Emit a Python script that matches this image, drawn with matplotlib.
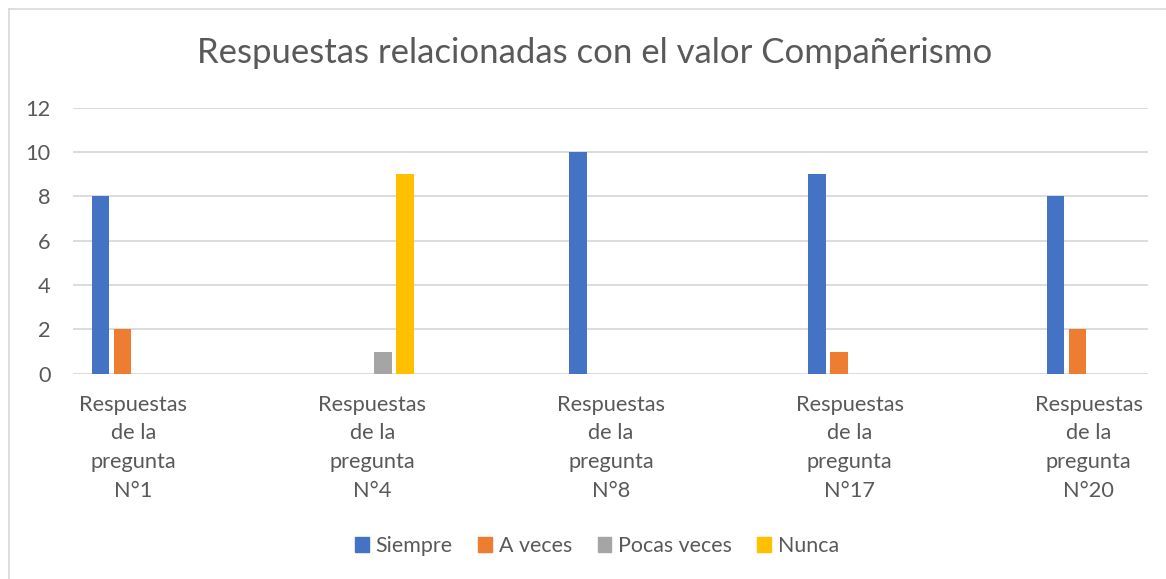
import matplotlib
matplotlib.use("Agg")
import matplotlib.pyplot as plt
import numpy as np
from matplotlib.patches import Rectangle
from matplotlib.lines import Line2D

categories = ["Respuestas\nde la\npregunta\nN°1", "Respuestas\nde la\npregunta\nN°4",
              "Respuestas\nde la\npregunta\nN°8", "Respuestas\nde la\npregunta\nN°17",
              "Respuestas\nde la\npregunta\nN°20"]
series_names = ["Siempre", "A veces", "Pocas veces", "Nunca"]
siempre = [8, 0, 10, 9, 8]
a_veces = [2, 0, 0, 1, 2]
pocas_veces = [0, 1, 0, 0, 0]
nunca = [0, 9, 0, 0, 0]
y_ticks = [0, 2, 4, 6, 8, 10, 12]
title = "Respuestas relacionadas con el valor Compañerismo"

colors = ["#4472C4", "#ED7D31", "#A5A5A5", "#FFC000"]
text_color = "#595959"
grid_color = "#D9D9D9"
FONT = "Lato"

W, H = 1166, 579
fig = plt.figure(figsize=(W / 100, H / 100), dpi=100)
fig.patch.set_facecolor("white")

# chart border (left and top visible)
fig.add_artist(Line2D([9 / W, 9 / W], [0, 1 - 9 / H], color=grid_color, lw=1.2,
                      transform=fig.transFigure))
fig.add_artist(Line2D([9 / W, 1], [1 - 9 / H, 1 - 9 / H], color=grid_color, lw=1.2,
                      transform=fig.transFigure))

left, right = 73 / W, 1148 / W
bottom, top = 1 - 373.7 / H, 1 - 107.7 / H
ax = fig.add_axes([left, bottom, right - left, top - bottom])

x = np.arange(len(categories))
step = 0.0921
width = 0.0733
all_series = [siempre, a_veces, pocas_veces, nunca]
for i, (vals, name, c) in enumerate(zip(all_series, series_names, colors)):
    ax.bar(x + (i - 1.5) * step, vals, width=width, color=c, label=name, zorder=3)

ax.set_xlim(-0.253, 4.249)
ax.set_ylim(0, 12)
ax.set_yticks(y_ticks)
ax.set_xticks(x)
ax.set_xticklabels(categories, fontfamily=FONT, fontsize=15.7, color=text_color,
                   linespacing=1.56)
for lab in ax.get_yticklabels():
    lab.set_fontfamily(FONT)
    lab.set_fontsize(15.7)
    lab.set_color(text_color)
ax.tick_params(axis="both", length=0)
ax.tick_params(axis="y", pad=16)
ax.tick_params(axis="x", pad=15)
ax.grid(axis="y", color=grid_color, lw=1.3, zorder=0)
for s in ax.spines.values():
    s.set_visible(False)

fig.text(595 / W, 1 - 53 / H, title, ha="center", va="center", fontfamily=FONT,
         fontsize=25, color=text_color)

handles = [Rectangle((0, 0), 1, 1, color=c) for c in colors]
leg = fig.legend(handles, series_names, loc="center", bbox_to_anchor=(597 / W, 1 - 546 / H),
                 ncol=4, frameon=False, prop={"family": FONT, "size": 15.4},
                 handlelength=0.65, handleheight=0.65, handletextpad=0.3, columnspacing=1.2)
for t in leg.get_texts():
    t.set_color(text_color)

fig.savefig("out.png", dpi=100, facecolor="white")
